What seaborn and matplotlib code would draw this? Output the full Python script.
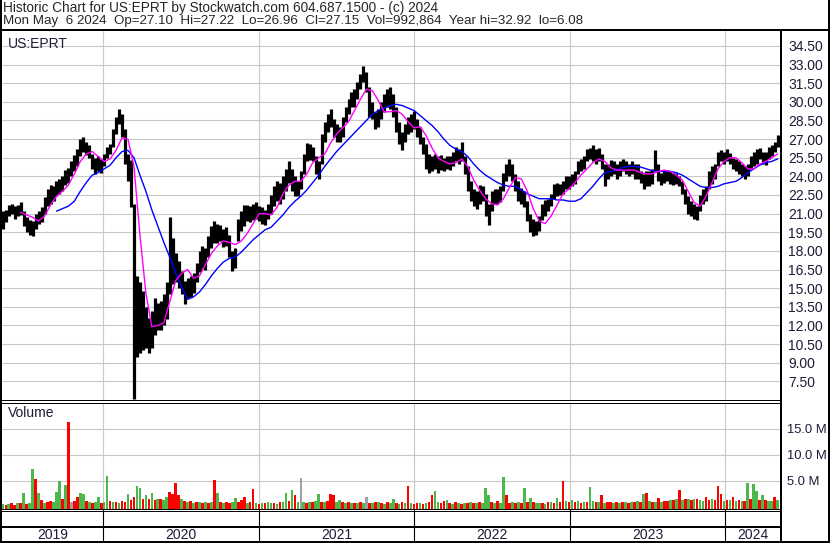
import numpy as np
import pandas as pd
import matplotlib
matplotlib.use("Agg")
import matplotlib.pyplot as plt
from matplotlib.lines import Line2D
import seaborn as sns

# weekly high / low of US:EPRT (May 2019 - May 2024)
bar_high = [
    21.2, 21.3, 21.7, 21.8, 21.6, 21.7, 21.9, 21.2, 20.7, 20.5,
    20.4, 21.0, 21.2, 21.5, 22.3, 23.0, 23.3, 23.2, 23.6, 23.8,
    24.0, 24.5, 24.7, 25.2, 25.7, 26.2, 27.0, 27.2, 26.8, 26.5,
    25.8, 25.5, 25.6, 25.4, 25.8, 26.4, 26.6, 27.8, 28.8, 29.4,
    29.0, 27.8, 25.8, 25.3, 21.8, 16.0, 15.5, 14.8, 13.5, 12.6,
    13.2, 14.2, 13.8, 14.0, 14.5, 15.5, 20.7, 19.0, 17.8, 17.2,
    16.4, 15.6, 15.8, 16.0, 16.2, 17.0, 18.0, 18.4, 18.2, 19.2,
    20.0, 20.4, 20.2, 20.1, 19.8, 19.9, 19.3, 18.0, 18.2, 20.6,
    21.2, 21.7, 21.7, 21.6, 21.8, 21.9, 21.6, 21.5, 21.3, 21.8,
    22.5, 23.2, 23.6, 23.5, 24.0, 24.6, 25.2, 24.6, 24.0, 23.6,
    24.4, 25.8, 26.7, 26.6, 26.4, 25.6, 25.2, 27.4, 28.4, 29.0,
    29.4, 28.6, 28.2, 28.0, 28.8, 29.6, 30.2, 30.8, 31.0, 31.6,
    32.2, 32.9, 32.4, 31.2, 30.0, 29.2, 29.4, 30.0, 30.6, 31.0,
    31.2, 30.6, 29.6, 28.4, 27.6, 28.2, 28.8, 29.0, 29.3, 28.6,
    28.0, 27.2, 26.6, 25.8, 25.6, 25.8, 25.6, 25.7, 25.5, 25.6,
    25.6, 26.0, 26.4, 26.2, 26.8, 25.6, 24.8, 23.6, 23.0, 22.8,
    23.3, 23.2, 22.6, 21.8, 22.8, 23.0, 23.0, 23.2, 24.3, 25.0,
    25.4, 25.0, 24.2, 23.6, 23.1, 22.8, 22.0, 21.0, 20.6, 20.4,
    20.8, 21.8, 22.1, 22.2, 22.6, 23.4, 23.5, 23.4, 23.6, 24.0,
    24.0, 24.2, 24.4, 25.2, 25.4, 25.6, 26.2, 26.3, 26.5, 26.2,
    26.3, 25.8, 25.0, 25.0, 25.3, 25.2, 25.0, 25.2, 25.4, 25.2,
    25.0, 25.2, 25.0, 25.0, 24.4, 24.2, 24.4, 24.4, 24.6, 26.1,
    25.0, 24.3, 24.4, 24.5, 24.4, 24.3, 24.3, 24.0, 23.6, 23.0,
    22.4, 22.0, 21.8, 21.6, 22.5, 23.0, 23.2, 24.4, 24.8, 25.0,
    26.0, 26.1, 26.0, 26.2, 25.9, 25.5, 25.4, 25.2, 25.0, 24.8,
    25.0, 25.6, 26.0, 26.2, 26.3, 26.0, 26.0, 26.4, 26.5, 26.8,
    27.3,
]
bar_low = [
    19.8, 20.3, 20.8, 21.0, 20.6, 20.8, 20.9, 20.0, 19.5, 19.3,
    19.2, 19.8, 20.2, 20.3, 21.0, 21.6, 21.8, 22.0, 22.4, 22.6,
    22.8, 23.3, 23.5, 24.0, 24.4, 24.8, 25.6, 26.0, 25.7, 25.5,
    24.6, 24.2, 24.4, 24.3, 24.8, 25.5, 25.8, 26.4, 27.4, 28.2,
    27.2, 25.0, 23.6, 21.5, 6.1, 9.5, 9.8, 10.0, 10.2, 9.8,
    10.2, 11.2, 11.6, 11.6, 12.0, 12.5, 14.5, 15.3, 15.5, 15.0,
    14.5, 13.7, 14.2, 14.3, 14.6, 15.5, 16.3, 16.6, 16.5, 17.5,
    18.2, 18.6, 18.6, 18.8, 18.3, 18.4, 17.5, 16.4, 16.6, 18.8,
    19.6, 20.0, 20.4, 20.3, 20.5, 20.6, 20.4, 20.2, 20.1, 20.6,
    21.0, 21.6, 22.0, 21.8, 22.2, 22.8, 23.5, 22.8, 22.4, 22.4,
    23.0, 24.2, 25.2, 25.3, 25.2, 24.2, 23.8, 25.0, 26.8, 27.6,
    28.0, 27.2, 26.8, 26.8, 27.2, 28.4, 29.0, 29.6, 29.6, 30.2,
    31.0, 31.6, 30.8, 28.8, 28.6, 27.8, 28.0, 28.6, 29.2, 29.6,
    29.4, 28.8, 27.6, 26.6, 26.1, 26.8, 27.4, 27.6, 27.8, 27.2,
    26.6, 25.8, 24.6, 24.3, 24.4, 24.6, 24.3, 24.5, 24.4, 24.6,
    24.5, 24.8, 25.2, 25.0, 25.2, 24.2, 22.8, 22.0, 21.6, 21.4,
    21.8, 22.0, 20.8, 20.1, 21.2, 21.8, 21.8, 21.9, 22.8, 23.6,
    24.0, 23.6, 22.8, 22.0, 21.8, 21.5, 20.4, 19.5, 19.2, 19.3,
    19.6, 20.5, 20.8, 21.2, 21.6, 22.2, 22.4, 22.5, 22.6, 23.0,
    23.0, 23.2, 23.4, 24.2, 24.4, 24.6, 25.2, 25.4, 25.2, 25.0,
    25.2, 24.6, 23.2, 23.8, 24.0, 24.2, 23.8, 24.0, 24.4, 24.2,
    24.0, 24.2, 23.8, 23.8, 23.5, 23.0, 23.2, 23.2, 23.4, 24.4,
    23.6, 23.3, 23.5, 23.6, 23.4, 23.3, 23.4, 23.2, 22.6, 21.8,
    21.0, 20.8, 20.6, 20.5, 21.2, 21.8, 22.0, 23.0, 23.4, 23.8,
    24.8, 25.2, 25.0, 25.2, 25.0, 24.6, 24.4, 24.2, 24.0, 23.8,
    24.0, 24.6, 24.8, 25.0, 25.4, 25.0, 24.9, 25.4, 25.6, 26.0,
    26.4,
]

# moving averages, one reading every two weeks (end aligned with the bars)
ma_pink = [
    21.1, 20.9, 20.7, 20.4, 20.8, 21.7, 22.4,
    22.8, 23.3, 24.2, 25.2, 25.8, 26.0, 25.6, 25.2, 25.4, 26.1,
    27.1, 27.0, 24.8, 19.3, 14.6, 11.9, 12.0, 12.2, 13.9, 15.6,
    16.2, 16.5, 15.8, 16.0, 16.9, 17.8, 18.4, 18.8, 18.7, 18.5,
    18.8, 19.4, 20.2, 21.0, 21.0, 20.9, 21.5, 22.6, 23.3, 23.6,
    23.6, 24.2, 25.1, 25.5, 25.8, 26.7, 27.4, 27.9, 28.4, 29.3,
    30.2, 31.0, 30.9, 30.1, 29.2, 29.2, 29.3, 29.0, 28.4, 27.9,
    28.0, 27.3, 26.3, 25.5, 25.2, 25.0, 25.1, 25.4, 24.8, 23.7,
    22.9, 22.2, 21.8, 21.7, 22.2, 23.1, 23.9, 23.8, 22.8, 21.4,
    20.4, 20.2, 20.8, 21.7, 22.6, 23.0, 23.5, 24.1, 24.6, 25.1,
    25.4, 25.2, 24.7, 24.5, 24.5, 24.5, 24.5, 24.3, 24.2, 24.2,
    24.4, 24.5, 24.4, 24.1, 23.7, 22.8, 21.9, 21.6, 22.4, 23.5,
    24.6, 25.2, 25.5, 25.5, 25.1, 24.6, 24.6, 25.0, 25.2, 25.5,
    25.8,
]
ma_blue = [
    21.2,
    21.4, 21.6, 22.0, 22.8, 23.5, 24.1, 24.3, 24.6, 24.9, 25.5,
    26.0, 26.1, 25.5, 24.1, 22.8, 21.3, 20.0, 18.7, 17.5, 16.2,
    15.1, 14.1, 14.3, 14.7, 15.3, 16.0, 16.6, 17.1, 17.4, 17.5,
    17.9, 18.4, 18.9, 19.3, 19.7, 19.9, 20.4, 20.9, 21.5, 22.0,
    22.4, 22.9, 23.5, 24.1, 24.8, 25.4, 26.0, 26.5, 27.0, 27.5,
    28.0, 28.5, 29.0, 29.3, 29.5, 29.7, 29.8, 29.7, 29.5, 29.3,
    28.9, 28.5, 28.1, 27.6, 27.0, 26.5, 26.2, 26.0, 25.6, 25.0,
    24.5, 24.1, 23.8, 23.5, 23.3, 23.2, 23.2, 22.9, 22.6, 22.4,
    22.2, 22.2, 22.2, 22.1, 22.1, 22.0, 22.0, 22.2, 22.7, 23.2,
    23.8, 24.3, 24.4, 24.5, 24.7, 24.8, 24.8, 24.75, 24.6, 24.45,
    24.4, 24.4, 24.4, 24.3, 24.1, 23.8, 23.5, 23.2, 23.1, 23.1,
    23.2, 23.4, 23.5, 23.6, 23.9, 24.3, 24.6, 24.9, 25.1, 25.2,
    25.4,
]

# volume in millions, one reading a week, with bar colour (g up, r down, k unchanged)
vol = [
    0.6, 0.4, 0.5, 0.7, 0.4, 0.7, 0.8, 2.6, 0.6, 0.8,
    7.3, 5.3, 2.7, 1.3, 0.7, 1.0, 1.2, 1.0, 2.9, 4.9,
    1.5, 4.3, 16.3, 1.0, 1.2, 1.9, 2.7, 2.4, 1.2, 0.9,
    0.8, 1.0, 2.0, 0.7, 0.9, 6.0, 1.1, 0.9, 1.0, 0.8,
    1.2, 1.0, 2.5, 1.4, 1.9, 4.0, 3.6, 1.5, 2.2, 1.6,
    2.6, 1.4, 1.5, 1.6, 1.3, 2.0, 2.8, 2.4, 4.6, 2.2,
    1.6, 1.2, 0.9, 1.1, 0.8, 1.0, 0.9, 0.7, 1.0, 0.8,
    1.0, 5.1, 2.7, 1.0, 0.8, 0.9, 0.7, 1.0, 1.7, 0.9,
    1.3, 1.9, 0.8, 0.9, 3.5, 0.7, 0.6, 0.8, 0.7, 0.9,
    0.7, 0.8, 0.6, 0.9, 1.0, 2.7, 1.1, 3.3, 2.2, 1.0,
    5.5, 1.0, 0.8, 1.0, 0.9, 1.1, 2.4, 1.0, 0.9, 1.2,
    2.5, 2.3, 1.0, 1.4, 0.9, 0.8, 1.0, 0.7, 0.8, 0.7,
    0.9, 0.8, 2.0, 0.7, 0.8, 0.9, 1.0, 0.7, 0.6, 0.9,
    0.7, 1.5, 0.8, 0.6, 0.9, 0.8, 4.1, 0.7, 0.6, 0.8,
    0.7, 0.6, 0.8, 0.9, 2.2, 3.1, 1.0, 0.8, 1.1, 1.4,
    0.8, 0.6, 0.9, 0.7, 0.6, 0.8, 0.7, 1.0, 0.7, 0.8,
    0.9, 0.8, 3.6, 2.2, 0.9, 0.8, 1.1, 0.8, 5.8, 2.2,
    0.8, 1.0, 0.7, 0.9, 0.8, 3.7, 1.0, 1.7, 0.9, 0.8,
    0.7, 0.8, 0.6, 0.9, 1.0, 0.8, 1.7, 0.9, 4.9, 1.2,
    1.0, 1.4, 0.9, 1.1, 0.8, 1.0, 0.9, 3.9, 1.2, 0.9,
    1.0, 2.2, 0.8, 1.0, 0.9, 0.7, 1.0, 0.8, 0.9, 1.0,
    0.8, 1.0, 0.9, 1.2, 1.0, 2.4, 2.6, 1.1, 1.0, 0.9,
    1.7, 1.0, 1.1, 1.2, 1.3, 1.4, 1.5, 3.3, 1.3, 1.6,
    1.5, 1.4, 1.6, 1.5, 1.3, 1.2, 2.0, 1.4, 1.5, 1.3,
    4.1, 2.5, 1.2, 1.4, 1.3, 2.0, 1.2, 1.3, 1.1, 1.2,
    4.6, 1.5, 4.4, 3.1, 1.4, 2.2, 1.3, 1.2, 1.1, 1.9,
    1.3,
]
vol_colors = ("grgrrgrgrg" "grgrgrrggg" "rgrkrrggrg" "rggrggrgrg" "rrgrrggrgr"
              "grgrggrrrr" "grgrgrgrgr" "grgrgrrggr" "rrgrrgrgrg" "grgrggrgrg"
              "kgrgrggrgr" "rrggrgrgrg" "rgkrgrgrgr" "ggrgrgrgrr" "grgrrggrrg"
              "rgrgrgrgrg" "rgggrgrggr" "rgrgrgrgrg" "grgrgrgrrg" "rgrgrgrggr"
              "grgrrgrgrg" "rgrgrgrgrg" "rgrrgrgrgr" "grgrggrrgr" "rrgrgrgrgr"
              "grggrgrggr" "g")

price_ticks = [7.5, 9.0, 10.5, 12.0, 13.5, 15.0, 16.5, 18.0, 19.5, 21.0,
               22.5, 24.0, 25.5, 27.0, 28.5, 30.0, 31.5, 33.0, 34.5]
vol_ticks = [5, 10, 15]
vol_labels = ["5.0 M", "10.0 M", "15.0 M"]
years = ["2019", "2020", "2021", "2022", "2023", "2024"]

header1 = "Historic Chart for US:EPRT by Stockwatch.com 604.687.1500 - (c) 2024"
header2 = ("Mon May  6 2024  Op=27.10  Hi=27.22  Lo=26.96  Cl=27.15  "
           "Vol=992,864  Year hi=32.92  lo=6.08")

sns.set_style("white")
plt.rcParams["font.family"] = ["Liberation Sans", "DejaVu Sans"]

W, H = 830, 543
fig = plt.figure(figsize=(W / 100, H / 100), dpi=100)
fig.patch.set_facecolor("white")


def box(x0, y0, x1, y1):
    # pixel box (top-left origin) -> figure fraction rect
    return [x0 / W, 1 - y1 / H, (x1 - x0) / W, (y1 - y0) / H]


def hline(y, x0, x1, px=1):
    fig.add_artist(Line2D([x0 / W, x1 / W], [1 - y / H, 1 - y / H],
                          color="black", lw=px * 0.72))


def vline(x, y0, y1, px=1):
    fig.add_artist(Line2D([x / W, x / W], [1 - y0 / H, 1 - y1 / H],
                          color="black", lw=px * 0.72))


weeks = pd.date_range(end="2024-05-03", periods=len(bar_high), freq="W-FRI")
ma_dates = weeks[::-1][::2][::-1]
x_lo, x_hi = pd.Timestamp("2019-05-08"), pd.Timestamp("2024-05-11")
year_starts = [pd.Timestamp(f"{y}-01-01") for y in range(2020, 2025)]
grid_c = "#c8c8c8"
lab_c = "#1c1c38"

# ---- price panel
ax = fig.add_axes(box(2, 31, 781, 400))
ax.vlines(weeks, bar_low, bar_high, color="black", lw=2.3, zorder=2)
sns.lineplot(x=ma_dates[-len(ma_blue):], y=ma_blue, ax=ax, color="#0000ff",
             lw=1.0, zorder=3)
sns.lineplot(x=ma_dates[-len(ma_pink):], y=ma_pink, ax=ax, color="#ff00ff",
             lw=1.0, zorder=4)
ax.set_xlim(x_lo, x_hi)
ax.set_ylim(6.0, 35.7)
ax.set_yticks(price_ticks)
ax.set_yticklabels([f"{v:.2f}" for v in price_ticks])
ax.set_xticks(year_starts)
ax.yaxis.tick_right()
ax.tick_params(axis="y", length=0, pad=5, labelsize=10, labelcolor=lab_c)
ax.tick_params(axis="x", length=0, labelbottom=False)
ax.grid(True, color=grid_c, lw=0.8, zorder=0)
ax.set_axisbelow(True)
ax.set_xlabel("")
ax.set_ylabel("")
for s in ax.spines.values():
    s.set_visible(False)
ax.text(6 / 779, 0.985, "US:EPRT", transform=ax.transAxes, ha="left",
        va="top", fontsize=10, color=lab_c)

# ---- volume panel
cmap = {"g": "#4cb84c", "r": "#ff0000", "k": "#a0a0a0"}
av = fig.add_axes(box(2, 403, 781, 509))
vweeks = pd.date_range(end="2024-05-03", periods=len(vol), freq="W-FRI")
vals = np.array(vol)
av.bar(vweeks, vals + 0.4, bottom=-0.4, width=6.2,
       color=[cmap[c] for c in vol_colors[:len(vol)]], lw=0, zorder=2)
av.set_xlim(x_lo, x_hi)
av.set_ylim(-0.4, 20.0)
av.set_yticks(vol_ticks)
av.set_yticklabels(vol_labels)
av.set_xticks(year_starts)
av.yaxis.tick_right()
av.tick_params(axis="y", length=0, pad=4, labelsize=9.4, labelcolor=lab_c)
av.tick_params(axis="x", length=0, labelbottom=False)
av.grid(True, color=grid_c, lw=0.8, zorder=0)
av.set_axisbelow(True)
for s in av.spines.values():
    s.set_visible(False)
av.text(6 / 779, 0.97, "Volume", transform=av.transAxes, ha="left",
        va="top", fontsize=10, color=lab_c)

# ---- date strip
ad = fig.add_axes(box(2, 510, 781, 541))
ad.set_xlim(x_lo, x_hi)
ad.set_ylim(0, 1)
ad.axis("off")
for d in year_starts:
    ad.axvline(d, color="black", lw=0.8)
edges = [x_lo] + year_starts + [x_hi]
for i, y in enumerate(years):
    mid = edges[i] + (edges[i + 1] - edges[i]) / 2
    ad.text(mid, 0.2, y, ha="center", va="center", fontsize=10, color=lab_c)

# ---- frame lines
vline(1, 0, 543, 2)
vline(829, 0, 543, 2)
hline(30, 0, 830, 2)
vline(781, 30, 543, 2)
hline(400, 0, 781, 1)
hline(402.5, 0, 781, 1)
hline(508.5, 0, 781, 1)
hline(510.5, 0, 781, 1)
hline(527, 0, 781, 2)
hline(541.5, 0, 830, 2)

fig.text(3 / W, 1 - 1 / H, header1, ha="left", va="top", fontsize=9.8)
fig.text(3 / W, 1 - 15 / H, header2, ha="left", va="top", fontsize=9.6)

fig.savefig("out.png", dpi=100)
